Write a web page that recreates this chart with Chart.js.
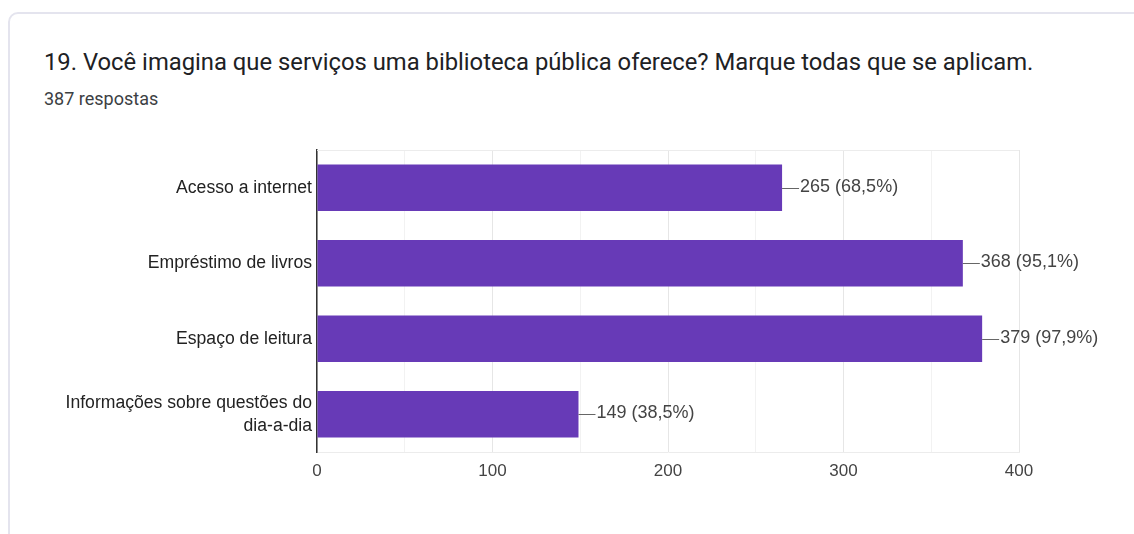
<!DOCTYPE html>
<html>
<head>
<meta charset="utf-8">
<script src="https://cdn.jsdelivr.net/npm/chart.js@4/dist/chart.umd.min.js"></script>
<style>
  body { margin: 0; background: #fff; width: 1134px; height: 534px; overflow: hidden; position: relative; }
  .card { position: absolute; left: 8px; top: 12px; width: 1200px; height: 600px;
          border: 2px solid #e4e4ee; border-radius: 10px; box-sizing: border-box; }
  .title { position: absolute; left: 44px; top: 48px; font: 23.8px/28px Roboto, Arial, sans-serif;
           color: #202124; white-space: nowrap; }
  .sub { position: absolute; left: 44px; top: 88px; font: 18px/21px Roboto, Arial, sans-serif; color: #3c4043; }
  .wrap { position: absolute; left: 0; top: 0; width: 1134px; height: 534px; }
</style>
</head>
<body>
<div class="card"></div>
<div class="title">19. Você imagina que serviços uma biblioteca pública oferece? Marque todas que se aplicam.</div>
<div class="sub">387 respostas</div>
<div class="wrap"><canvas id="chart"></canvas></div>

<script>
const categories = [
  "Acesso a internet",
  "Empréstimo de livros",
  "Espaço de leitura",
  ["Informações sobre questões do", "dia-a-dia"]
];
const counts = [265, 368, 379, 149];
const pctLabels = ["68,5%", "95,1%", "97,9%", "38,5%"];
const xTicks = [0, 100, 200, 300, 400];

// value labels with a short leader line after each bar
const valueLabels = {
  id: "valueLabels",
  afterDatasetsDraw(chart) {
    const ctx = chart.ctx;
    const meta = chart.getDatasetMeta(0);
    ctx.save();
    ctx.font = "18px 'Liberation Sans', Arial, sans-serif";
    ctx.fillStyle = "#444";
    ctx.strokeStyle = "#666";
    ctx.lineWidth = 1;
    ctx.textBaseline = "middle";
    meta.data.forEach((bar, i) => {
      const y = Math.round(bar.y) + 0.5;
      ctx.beginPath();
      ctx.moveTo(bar.x, y);
      ctx.lineTo(bar.x + 17, y);
      ctx.stroke();
      ctx.fillText(counts[i] + " (" + pctLabels[i] + ")", bar.x + 18, bar.y - 1);
    });
    ctx.restore();
  }
};

// light line on top of the plot area
const topLine = {
  id: "topLine",
  beforeDatasetsDraw(chart) {
    const { ctx, chartArea } = chart;
    ctx.save();
    ctx.strokeStyle = "#ececec";
    ctx.lineWidth = 1;
    ctx.beginPath();
    ctx.moveTo(chartArea.left, chartArea.top + 0.5);
    ctx.lineTo(chartArea.right, chartArea.top + 0.5);
    ctx.stroke();
    ctx.restore();
  }
};

new Chart(document.getElementById("chart"), {
  type: "bar",
  data: {
    labels: categories,
    datasets: [{
      data: counts,
      backgroundColor: "#673ab7",
      barPercentage: 0.615,
      categoryPercentage: 1
    }]
  },
  options: {
    indexAxis: "y",
    responsive: true,
    maintainAspectRatio: false,
    animation: false,
    layout: { padding: { left: 0, right: 115, top: 150, bottom: 52 } },
    plugins: { legend: { display: false }, tooltip: { enabled: false } },
    scales: {
      x: {
        min: 0,
        max: 400,
        ticks: {
          stepSize: 50,
          padding: 9,
          color: "#444",
          font: { family: "'Liberation Sans', Arial, sans-serif", size: 17 },
          callback: v => xTicks.includes(v) ? String(v) : ""
        },
        grid: {
          drawTicks: false,
          color: c => (c.tick && c.tick.value % 100 === 0) ? "#e6e6e6" : "#f2f2f2"
        },
        border: { display: true, color: "#ececec" },
        afterFit: s => { s.height = 30; }
      },
      y: {
        ticks: {
          padding: 5,
          color: "#222",
          font: { family: "'Liberation Sans', Arial, sans-serif", size: 17.6, lineHeight: 1.3 }
        },
        grid: { display: false, drawTicks: false },
        border: { display: true, color: "#333", width: 1.5 },
        afterFit: s => { s.width = 317; }
      }
    }
  },
  plugins: [valueLabels, topLine]
});
</script>
</body>
</html>
